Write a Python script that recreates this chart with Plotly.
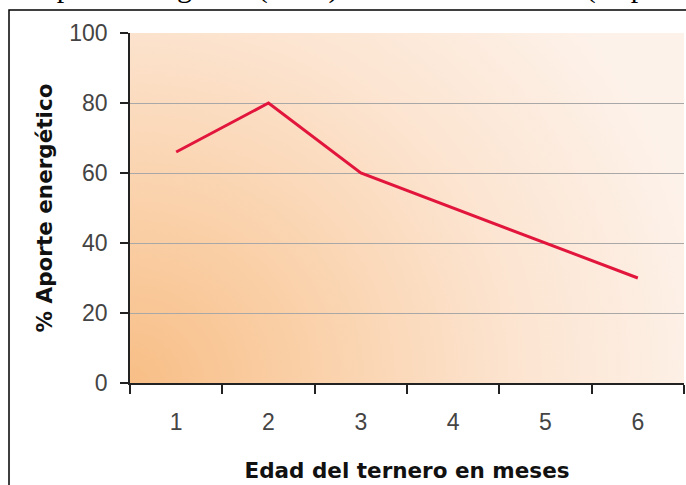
import base64
import plotly.graph_objects as go

# Data
months = ["1", "2", "3", "4", "5", "6"]
aporte = [66, 80, 60, 50, 40, 30]
y_ticks = [0, 20, 40, 60, 80, 100]

title_text = "Aporte energético (en %) de la leche materna (Kapustin, 1991)"
x_title = "Edad del ternero en meses"
y_title = "% Aporte energético"

svg = """<svg xmlns='http://www.w3.org/2000/svg' width='600' height='400' viewBox='0 0 600 400' preserveAspectRatio='none'>
<defs>
<radialGradient id='g' cx='0' cy='400' r='640' gradientUnits='userSpaceOnUse'>
<stop offset='0' stop-color='#F8BE86'/>
<stop offset='0.3' stop-color='#FAD0A8'/>
<stop offset='0.65' stop-color='#FCE4D0'/>
<stop offset='1' stop-color='#FDF2EA'/>
</radialGradient>
</defs>
<rect x='0' y='0' width='600' height='400' fill='url(#g)'/>
</svg>"""
bg_src = "data:image/svg+xml;base64," + base64.b64encode(svg.encode()).decode()

fig = go.Figure()
fig.add_trace(go.Scatter(
    x=months, y=aporte, mode="lines",
    line=dict(color="#E2163C", width=3),
    hoverinfo="x+y", showlegend=False,
))

L, R, T, B = 130, 2, 33, 102
W, H = 686, 485
pw, ph = W - L - R, H - T - B

title_font = dict(size=21.5, color="#111111", family="DejaVu Sans, Verdana, sans-serif",
                  weight="bold")

fig.update_layout(
    width=W, height=H,
    margin=dict(l=L, r=R, t=T, b=B, autoexpand=False),
    paper_bgcolor="white",
    plot_bgcolor="rgba(0,0,0,0)",
    font=dict(family="Liberation Sans, Arial, sans-serif", color="#222222"),
    images=[dict(source=bg_src, xref="paper", yref="paper", x=0, y=1,
                 sizex=1, sizey=1, sizing="stretch", layer="below",
                 xanchor="left", yanchor="top")],
    xaxis=dict(
        type="category", range=[-0.5, 5.5], automargin=False,
        tickson="boundaries", ticks="outside", ticklen=9, tickwidth=1.5,
        tickcolor="#222222", showline=True, linecolor="#222222", linewidth=1.5,
        showgrid=False, tickfont=dict(size=23, color="#444444"),
        ticklabelstandoff=18,
        title=dict(text=x_title, font=title_font, standoff=29),
        fixedrange=True,
    ),
    yaxis=dict(
        range=[0, 100], tickvals=y_ticks, ticks="outside", ticklen=8,
        automargin=False,
        tickwidth=1.5, tickcolor="#222222", showline=True, linecolor="#222222",
        linewidth=1.5, showgrid=True, gridcolor="#A8A8A8", gridwidth=1,
        zeroline=False, tickfont=dict(size=23, color="#444444"),
        ticklabelstandoff=8,
        title=dict(text=y_title, font=title_font, standoff=11),
        fixedrange=True,
    ),
    shapes=[dict(type="rect", xref="paper", yref="paper",
                 x0=(9 - L) / pw, x1=1.2, y0=-0.6, y1=(H - B - 10) / ph,
                 line=dict(color="black", width=1.5), fillcolor="rgba(0,0,0,0)",
                 layer="above")],
    annotations=[dict(text=title_text, xref="paper", yref="paper",
                      x=(33 - L) / pw, y=(H - B - 6) / ph, xanchor="left",
                      yanchor="bottom", showarrow=False,
                      font=dict(family="Liberation Serif, Times New Roman, serif",
                                size=30, color="black"))],
)

fig.write_html("out.html", config={"displayModeBar": False},
               post_script="document.body.style.margin='0';document.body.style.overflow='hidden';")
